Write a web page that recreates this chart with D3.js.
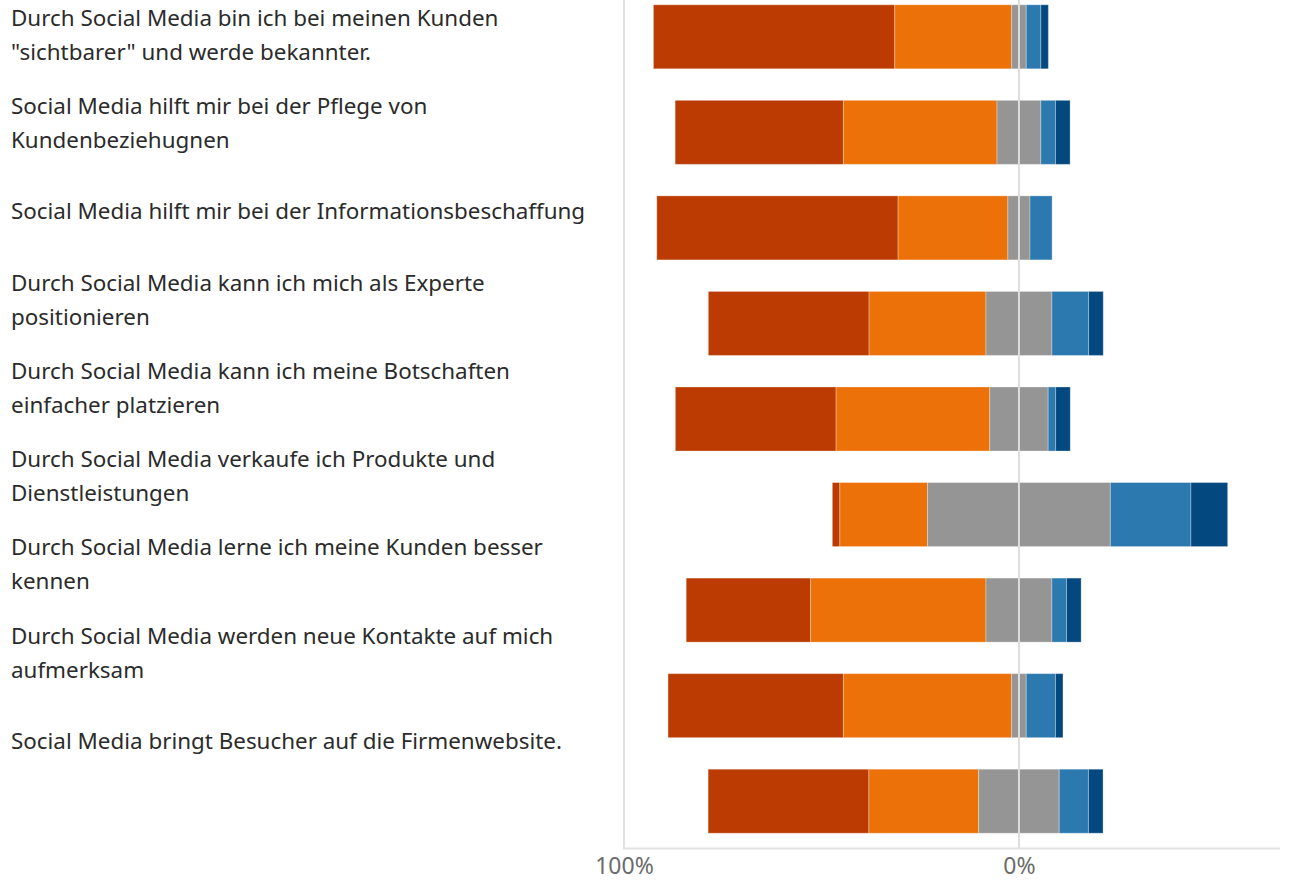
<!DOCTYPE html>
<html>
<head>
    <meta charset="utf-8">
    <title>Social Media Nutzen</title>
    <script src="https://cdn.jsdelivr.net/npm/d3@7"></script>
    <style>
        body { margin: 0; background: #fff; }
        svg { display: block; }
    </style>
</head>
<body>
    <script>
        var w = 1290;
        var h = 882;

        // questions (line breaks as in the original)
        var categories = [
            'Durch Social Media bin ich bei meinen Kunden\n"sichtbarer" und werde bekannter.',
            'Social Media hilft mir bei der Pflege von\nKundenbeziehugnen',
            'Social Media hilft mir bei der Informationsbeschaffung',
            'Durch Social Media kann ich mich als Experte\npositionieren',
            'Durch Social Media kann ich meine Botschaften\neinfacher platzieren',
            'Durch Social Media verkaufe ich Produkte und\nDienstleistungen',
            'Durch Social Media lerne ich meine Kunden besser\nkennen',
            'Durch Social Media werden neue Kontakte auf mich\naufmerksam',
            'Social Media bringt Besucher auf die Firmenwebsite.'
        ];

        // answer shares in % (left -> right)
        var stronglyAgree = [61.1, 42.6, 61.1, 40.7, 40.7, 1.9, 31.5, 44.4, 40.7];
        var agree         = [29.6, 38.9, 27.8, 29.6, 38.9, 22.2, 44.4, 42.6, 27.8];
        var neutral       = [3.7, 11.1, 5.6, 16.7, 14.8, 46.3, 16.7, 3.7, 20.4];
        var disagree      = [3.7, 3.7, 5.6, 9.3, 1.9, 20.4, 3.7, 7.4, 7.4];
        var stronglyDis   = [1.9, 3.7, 0, 3.7, 3.7, 9.3, 3.7, 1.9, 3.7];

        var tickValues = [-100, 0];
        var tickLabels = ["100%", "0%"];

        var colors = ["#bb3b02", "#eb7108", "#959595", "#2c79b0", "#03487f"];
        var series = [stronglyAgree, agree, neutral, disagree, stronglyDis];

        var svg = d3.select("body").append("svg")
                    .attr("width", w)
                    .attr("height", h);

        var x = d3.scaleLinear().domain([-100, 66.1]).range([624, 1280]);
        var y = d3.scaleBand().domain(d3.range(categories.length))
                  .range([0, 838]).paddingInner(0.33).paddingOuter(0.05);
        // labels sit on their own, slightly tighter spacing
        var yLabel = d3.scalePoint().domain(d3.range(categories.length)).range([35, 741]);

        // build segments: neutral is centred on 0
        var segments = [];
        categories.forEach(function(c, i) {
            var start = -(stronglyAgree[i] + agree[i] + neutral[i] / 2);
            series.forEach(function(s, k) {
                segments.push({row: i, k: k, x0: start, x1: start + s[i]});
                start += s[i];
            });
        });

        // frame lines
        svg.append("line")
            .attr("x1", x(-100)).attr("x2", x(-100))
            .attr("y1", 0).attr("y2", 849)
            .attr("stroke", "#e3e3e3").attr("stroke-width", 2);
        svg.append("line")
            .attr("x1", x(-100) - 1).attr("x2", x(66.1))
            .attr("y1", 848.5).attr("y2", 848.5)
            .attr("stroke", "#e3e3e3").attr("stroke-width", 2);

        svg.selectAll("rect.seg")
            .data(segments.filter(function(d) { return d.x1 > d.x0; }))
            .enter()
            .append("rect")
            .attr("class", "seg")
            .attr("x", function(d) { return x(d.x0); })
            .attr("y", function(d) { return y(d.row); })
            .attr("width", function(d) { return x(d.x1) - x(d.x0); })
            .attr("height", y.bandwidth())
            .attr("fill", function(d) { return colors[d.k]; })
            .attr("stroke", "#ffffff")
            .attr("stroke-opacity", 0.3)
            .attr("stroke-width", 1);

        // zero line drawn over the bars
        svg.append("line")
            .attr("x1", x(0)).attr("x2", x(0))
            .attr("y1", 0).attr("y2", 848)
            .attr("stroke", "#dedede").attr("stroke-width", 2);

        // x axis tick labels
        var xAxis = d3.axisBottom(x)
            .tickValues(tickValues)
            .tickSize(0)
            .tickFormat(function(d, i) { return tickLabels[i]; });
        var gx = svg.append("g")
            .attr("transform", "translate(0,848)")
            .call(xAxis);
        gx.select(".domain").remove();
        gx.selectAll("text")
            .attr("dy", 0)
            .attr("y", 26)
            .attr("fill", "#6b6b6b")
            .attr("font-family", "'Noto Sans', sans-serif")
            .attr("font-size", 23);

        // category labels
        var lab = svg.selectAll("text.cat")
            .data(categories)
            .enter()
            .append("text")
            .attr("class", "cat")
            .attr("font-family", "'Noto Sans', sans-serif")
            .attr("font-size", 22.4)
            .attr("fill", "#2b2b2b");
        lab.each(function(d, i) {
            var lines = d.split("\n");
            var t = d3.select(this);
            var top = yLabel(i) - (lines.length - 1) * 34 / 2;
            lines.forEach(function(l, j) {
                t.append("tspan")
                    .attr("x", 11)
                    .attr("y", top + j * 34)
                    .attr("dy", "0.35em")
                    .text(l);
            });
        });
    </script>
</body>
</html>
